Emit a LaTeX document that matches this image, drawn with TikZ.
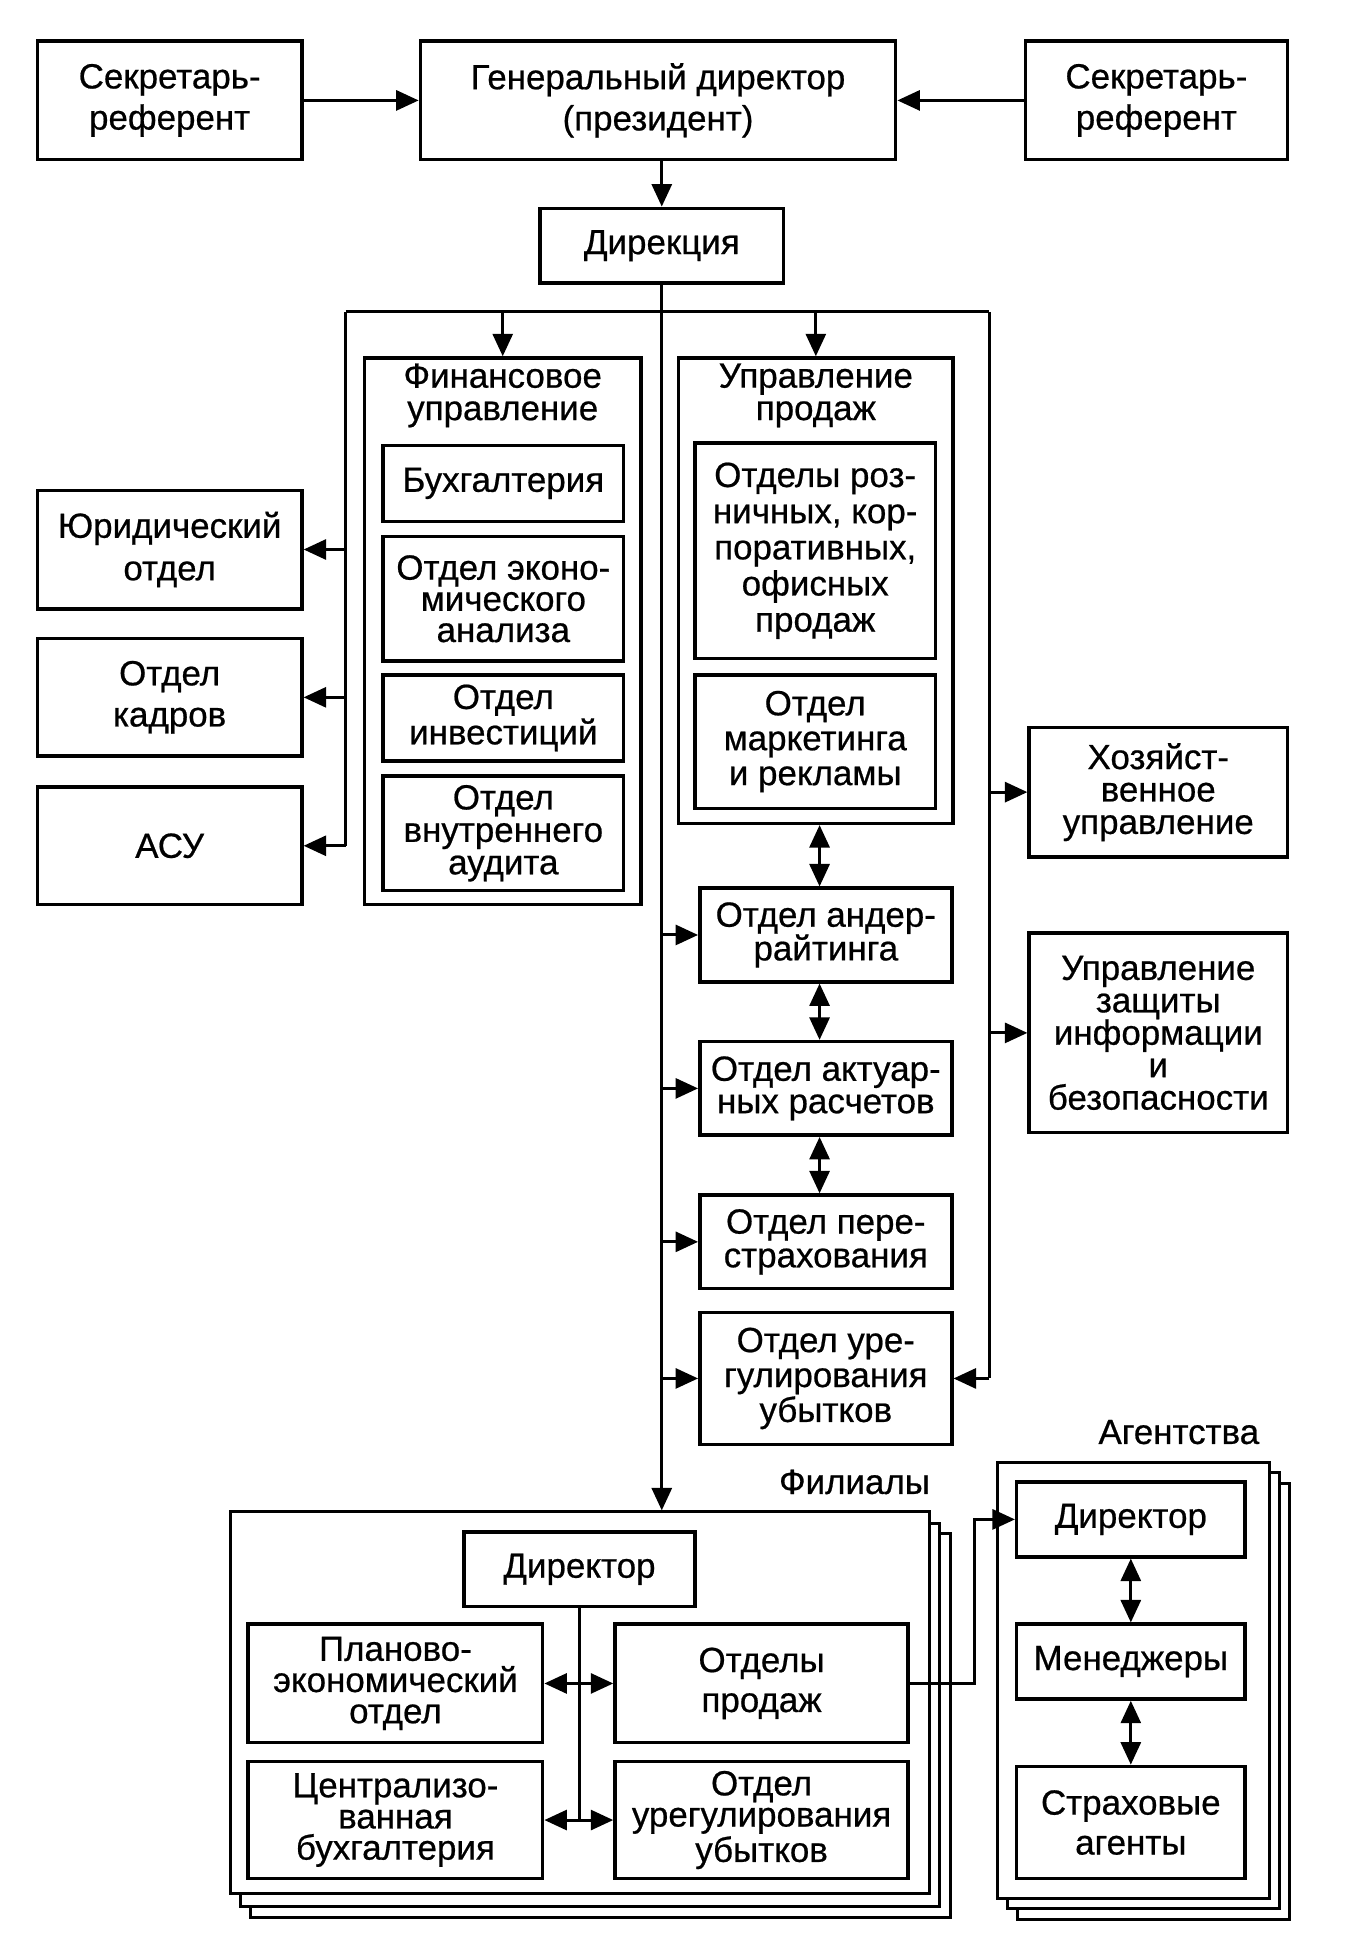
\documentclass[tikz,border=0pt]{standalone}
\usepackage{fontspec}
\setmainfont{Liberation Sans}[FakeBold=0.6]
\usetikzlibrary{arrows.meta}
\tikzset{
  box/.style={draw, line width=1.4pt, fill=white, inner sep=1pt, align=center, font=\fontsize{14}{13}\selectfont},
  ls/.style={font=\fontsize{14}{#1}\selectfont},
  lbl/.style={inner sep=1pt, font=\fontsize{14}{13}\selectfont},
  frame/.style={draw, line width=1.2pt, fill=white},
  conn/.style={line width=1.2pt},
  tip/.style={Triangle[length=9pt,width=8pt]},
  arr/.style={conn, -{Triangle[length=9pt,width=8pt]}},
  darr/.style={conn, {Triangle[length=9pt,width=8pt]}-{Triangle[length=9pt,width=8pt]}},
}
\newcommand\mybox[7][]{\node[box,#1,minimum width={(#5-#3)*0.5pt},minimum height={(#6-#4)*0.5pt}] (#2) at ({(#3+#5)/2},{(#4+#6)/2}) {#7};}
\begin{document}
\begin{tikzpicture}[x=0.5pt,y=-0.5pt]
\useasboundingbox (0,0) rectangle (1099,1568);
% top row
\mybox[ls=16.5pt]{secL}{30}{33}{242}{128}{Секретарь-\\референт}
\mybox[ls=16.5pt]{gen}{337}{33}{718}{128}{Генеральный директор\\(президент)}
\mybox[ls=16.5pt]{secR}{822}{33}{1032}{128}{Секретарь-\\референт}
\mybox{dir}{433}{167}{628}{227}{Дирекция}
\draw[arr] (secL) -- (gen);
\draw[arr] (secR) -- (gen);
\draw[arr] (dir.north |- gen.south) -- (dir.north);
% financial department
\mybox{finF}{292}{287}{514}{725}{}
\node[lbl, align=center] (finT) at (403,317) {Финансовое\\управление};
\mybox{buh}{307}{357}{500}{418}{Бухгалтерия}
\mybox[ls=12.5pt]{econ}{307}{430}{500}{530}{Отдел эконо-\\мического\\анализа}
\mybox{inv}{307}{541}{500}{610}{Отдел\\инвестиций}
\mybox{aud}{307}{622}{500}{714}{Отдел\\внутреннего\\аудита}
% sales management
\mybox{salesF}{544}{287}{764}{660}{}
\node[lbl, align=center] (salesT) at (654,317) {Управление\\продаж};
\mybox[ls=14.5pt]{retail}{557}{355}{750}{528}{Отделы роз-\\ничных, кор-\\поративных,\\офисных\\продаж}
\mybox[ls=14pt]{mark}{557}{541}{750}{648}{Отдел\\маркетинга\\и рекламы}
% left column
\mybox[ls=17pt]{jur}{30}{393}{242}{488}{Юридический\\отдел}
\mybox[ls=16.5pt]{kadr}{30}{512}{242}{606}{Отдел\\кадров}
\mybox{asu}{30}{631}{242}{725}{АСУ}
% right column
\mybox{hoz}{825}{583}{1032}{687}{Хозяйст-\\венное\\управление}
\mybox{zasch}{825}{748}{1032}{908}{Управление\\защиты\\информации\\и\\безопасности}
% central column
\mybox[ls=13.5pt]{und}{561}{712}{763}{787}{Отдел андер-\\райтинга}
\mybox{akt}{561}{835}{763}{910}{Отдел актуар-\\ных расчетов}
\mybox[ls=13.5pt]{pere}{561}{958}{763}{1033}{Отдел пере-\\страхования}
\mybox[ls=14pt]{ureg}{561}{1052}{763}{1158}{Отдел уре-\\гулирования\\убытков}
% bus lines
\coordinate (tl) at (277,250);
\coordinate (tr) at (793,250);
\draw[conn] (tl) -- (tr);
\draw[conn] (tl) -- (tl |- asu.east);
\draw[conn] (tr) -- (tr |- ureg.east);
\draw[arr] (finF.north |- tl) -- (finF.north);
\draw[arr] (salesF.north |- tr) -- (salesF.north);
\draw[arr] (tl |- jur.east) -- (jur.east);
\draw[arr] (tl |- kadr.east) -- (kadr.east);
\draw[arr] (tl |- asu.east) -- (asu.east);
\draw[arr] (tr |- hoz.west) -- (hoz.west);
\draw[arr] (tr |- zasch.west) -- (zasch.west);
\draw[arr] (tr |- ureg.east) -- (ureg.east);
\draw[darr] ([xshift=1.5pt]salesF.south) -- ([xshift=-2.5pt]und.north);
\draw[darr] ([xshift=-2.5pt]und.south) -- ([xshift=-2.5pt]akt.north);
\draw[darr] ([xshift=-2.5pt]akt.south) -- ([xshift=-2.5pt]pere.north);
% branches (Филиалы)
\draw[frame] (201,1229) rectangle (762,1537);
\draw[frame] (193,1221) rectangle (753,1528);
\node[frame, inner sep=0pt, minimum width=280pt, minimum height=153pt] (fil) at (465,1365) {};
\node[lbl] (filT) at (685,1188) {Филиалы};
\mybox{fdir}{372}{1228}{557}{1288}{Директор}
\mybox[ls=12.5pt]{fplan}{199}{1302}{435}{1397}{Планово-\\экономический\\отдел}
\mybox[ls=16pt]{fsales}{493}{1302}{728}{1397}{Отделы\\продаж}
\mybox[ls=12.5pt]{fbuh}{199}{1412}{435}{1506}{Централизо-\\ванная\\бухгалтерия}
\mybox[ls=12.5pt]{fureg}{493}{1412}{728}{1506}{Отдел\\урегулирования\\убытков}
\draw[conn] (fdir.south) -- (fdir.south |- fbuh.east);
\draw[darr] (fplan.east) -- (fsales.west);
\draw[darr] (fbuh.east) -- (fureg.west);
% agencies (Агентства)
\draw[frame] (816,1189) rectangle (1034,1539);
\draw[frame] (808,1180) rectangle (1026,1530);
\node[frame, inner sep=0pt, minimum width=109pt, minimum height=175pt] (ag) at (909,1347) {};
\node[lbl] (agT) at (945,1148) {Агентства};
\mybox{adir}{815}{1188}{998}{1248}{Директор}
\mybox{aman}{815}{1302}{998}{1362}{Менеджеры}
\mybox[ls=16pt]{aag}{815}{1416}{998}{1506}{Страховые\\агенты}
\draw[darr] (adir.south) -- (aman.north);
\draw[darr] (aman.south) -- (aag.north);
% trunk and links
\draw[conn] (dir.south) -- (dir.south |- tl);
\draw[conn] (dir.south |- tl) -- (dir.south |- ureg.west);
\draw[arr] (dir.south |- ureg.west) -- (dir.south |- fil.north);
\draw[arr] (dir.south |- und.west) -- (und.west);
\draw[arr] (dir.south |- akt.west) -- (akt.west);
\draw[arr] (dir.south |- pere.west) -- (pere.west);
\draw[arr] (dir.south |- ureg.west) -- (ureg.west);
\draw[arr] (fsales.east) -- ++(52,0) |- (adir.west);
\end{tikzpicture}
\end{document}
